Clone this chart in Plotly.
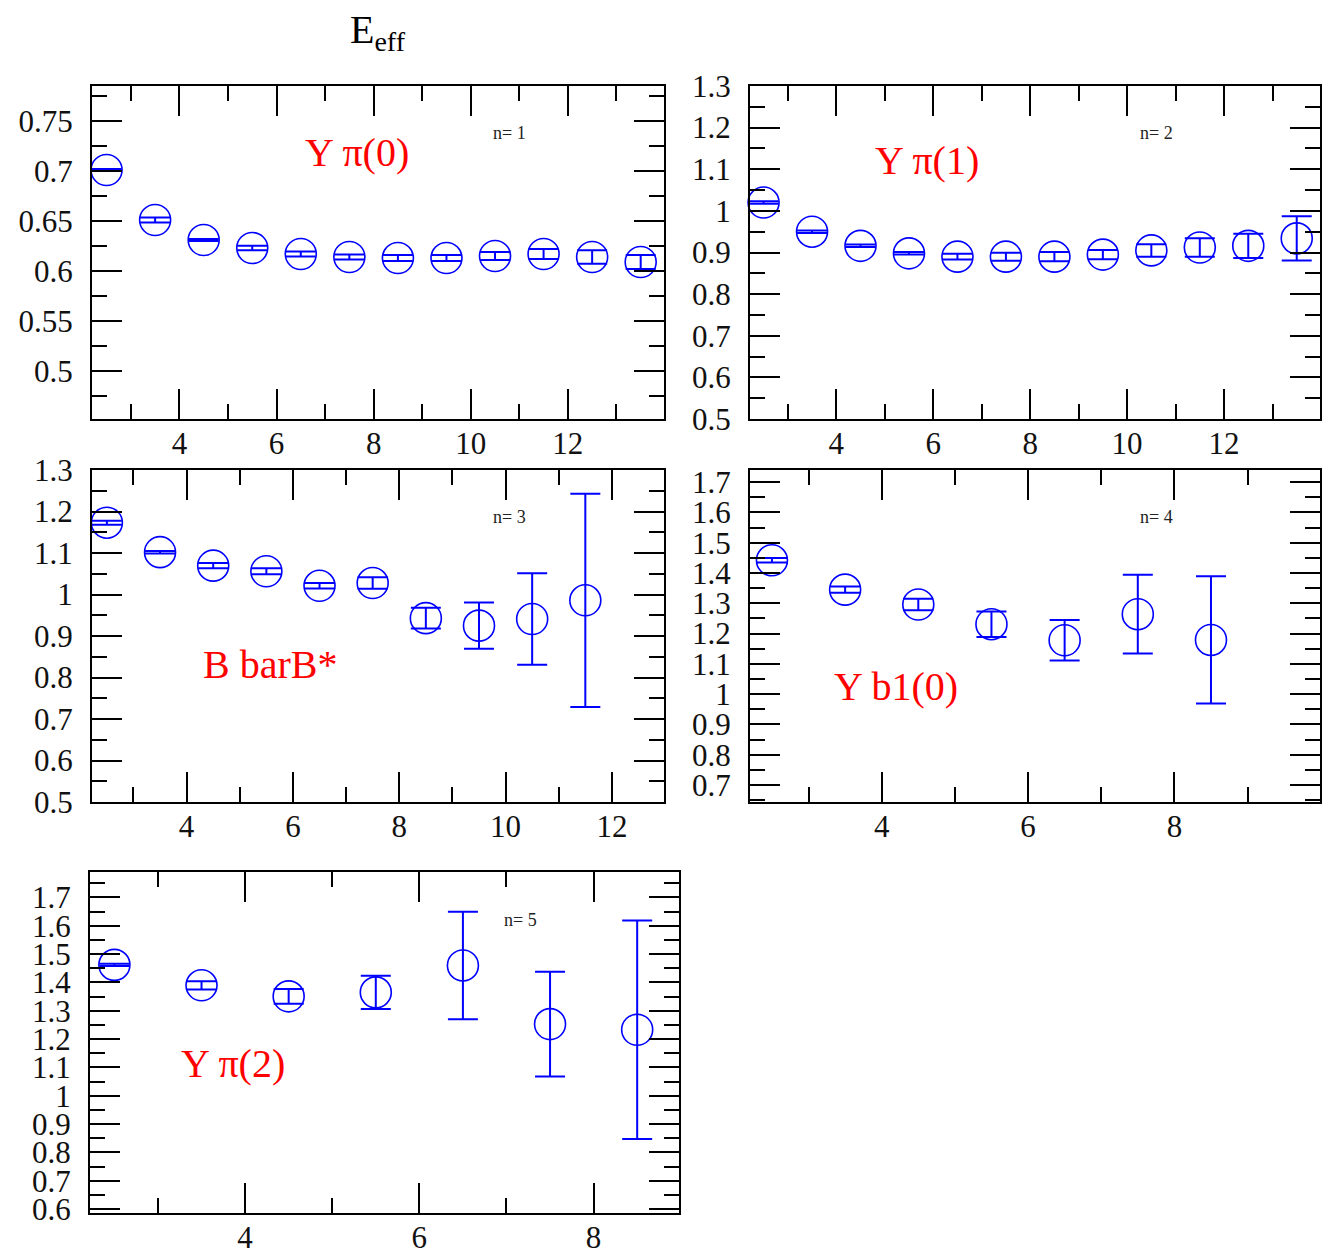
import plotly.graph_objects as go

# ---------------- data ----------------
t1 = [2.5, 3.5, 4.5, 5.5, 6.5, 7.5, 8.5, 9.5, 10.5, 11.5, 12.5, 13.5]
E1 = [0.701, 0.651, 0.631, 0.623, 0.617, 0.614, 0.613, 0.613, 0.615, 0.617, 0.614, 0.609]
err1 = [0.001, 0.0025, 0.001, 0.0023, 0.0025, 0.0025, 0.003, 0.003, 0.004, 0.005, 0.0067, 0.007]

t2 = [2.5, 3.5, 4.5, 5.5, 6.5, 7.5, 8.5, 9.5, 10.5, 11.5, 12.5, 13.5]
E2 = [1.020, 0.950, 0.916, 0.898, 0.890, 0.890, 0.890, 0.895, 0.905, 0.912, 0.916, 0.934]
err2 = [0.003, 0.003, 0.003, 0.003, 0.007, 0.0096, 0.011, 0.011, 0.015, 0.022, 0.029, 0.053]

t3 = [2.5, 3.5, 4.5, 5.5, 6.5, 7.5, 8.5, 9.5, 10.5, 11.5]
E3 = [1.173, 1.102, 1.0695, 1.056, 1.021, 1.0276, 0.943, 0.925, 0.941, 0.986]
err3 = [0.005, 0.003, 0.0064, 0.0073, 0.0068, 0.014, 0.025, 0.0556, 0.11, 0.257]

t4 = [2.5, 3.5, 4.5, 5.5, 6.5, 7.5, 8.5]
E4 = [1.442, 1.345, 1.296, 1.231, 1.178, 1.264, 1.179]
err4 = [0.0077, 0.010, 0.0187, 0.042, 0.0665, 0.13, 0.21]

t5 = [2.5, 3.5, 4.5, 5.5, 6.5, 7.5, 8.5]
E5 = [1.462, 1.390, 1.351, 1.365, 1.460, 1.253, 1.233]
err5 = [0.004, 0.0146, 0.026, 0.0585, 0.19, 0.185, 0.386]

labels = ["Y \u03c0(0)", "Y \u03c0(1)", "B barB*", "Y b1(0)", "Y \u03c0(2)"]
nlabels = ["n= 1", "n= 2", "n= 3", "n= 4", "n= 5"]
title_text = "E<sub>eff</sub>"

# ---------------- layout helpers ----------------
W, H = 1322, 1258
SERIF = "Liberation Serif, Times New Roman, serif"
BLUE = "#0000ff"


def px_x(p):
    return p / W


def px_y(p):
    return 1 - p / H


# panel boxes in screen pixels: (left, right, top, bottom)
boxes = [(92, 664, 86, 419), (750, 1320, 86, 419), (92, 664, 470, 802),
         (750, 1320, 470, 802), (90, 679, 872, 1213)]
xranges = [[2.2, 13.98], [2.22, 13.98], [2.22, 12.98], [2.2, 9.99], [2.22, 8.98]]
yranges = [[0.452, 0.785], [0.5, 1.3], [0.5, 1.3], [0.644, 1.74], [0.586, 1.79]]
ydticks = [0.05, 0.1, 0.1, 0.1, 0.1]

series = [(t1, E1, err1), (t2, E2, err2), (t3, E3, err3), (t4, E4, err4), (t5, E5, err5)]

fig = go.Figure()
layout = dict(width=W, height=H, margin=dict(l=0, r=0, t=0, b=0, pad=0, autoexpand=False),
              autosize=False, paper_bgcolor="white", plot_bgcolor="white", showlegend=False)

tickfont = dict(family=SERIF, size=31, color="#111")
for i, ((l, r, t, b), xr, yr, dy, (tx, ey, ee)) in enumerate(
        zip(boxes, xranges, yranges, ydticks, series)):
    k = "" if i == 0 else str(i + 1)
    common = dict(ticks="inside", ticklen=30, tickwidth=2, tickcolor="black",
                  showline=True, linecolor="black", linewidth=2, mirror="ticks",
                  showgrid=False, zeroline=False, tickfont=tickfont, automargin=False)
    layout["xaxis" + k] = dict(domain=[px_x(l), px_x(r)], range=xr, anchor="y" + k,
                               dtick=2, tick0=0,
                               minor=dict(dtick=1, tick0=0, ticks="inside", ticklen=15,
                                          tickwidth=2, tickcolor="black", showgrid=False),
                               ticklabelstandoff=-4, **common)
    layout["yaxis" + k] = dict(domain=[px_y(b), px_y(t)], range=yr, anchor="x" + k,
                               dtick=dy, tick0=0,
                               minor=dict(dtick=dy / 2, tick0=0, ticks="inside", ticklen=15,
                                          tickwidth=2, tickcolor="black", showgrid=False),
                               ticklabelstandoff=11, **common)
    fig.add_trace(go.Scatter(
        x=tx, y=ey, mode="markers", xaxis="x" + k, yaxis="y" + k,
        marker=dict(symbol="circle-open", size=31, color=BLUE, line=dict(width=1.6, color=BLUE)),
        error_y=dict(type="data", array=ee, visible=True, color=BLUE, thickness=2, width=15),
        cliponaxis=False,
    ))

# annotations
label_pos = [(357, 152), (927, 160), (270, 665), (896, 686), (233, 1063)]
n_pos = [(509, 133), (1156, 133), (509, 517), (1156, 517), (520, 920)]
annots = []
for lab, (x, y) in zip(labels, label_pos):
    annots.append(dict(text=lab, x=px_x(x), y=px_y(y), xref="paper", yref="paper",
                       showarrow=False, xanchor="center", yanchor="middle",
                       font=dict(family=SERIF, size=40, color="#ff0000")))
for lab, (x, y) in zip(nlabels, n_pos):
    annots.append(dict(text=lab, x=px_x(x), y=px_y(y), xref="paper", yref="paper",
                       showarrow=False, xanchor="center", yanchor="middle",
                       font=dict(family=SERIF, size=18, color="#222")))
annots.append(dict(text=title_text, x=px_x(378), y=px_y(32), xref="paper", yref="paper",
                   showarrow=False, xanchor="center", yanchor="middle",
                   font=dict(family=SERIF, size=40, color="#000")))
layout["annotations"] = annots

fig.update_layout(**layout)
# remove the default page margin so the 1322x1258 figure fills the window exactly
fig.write_html("out.html",
               config={"displayModeBar": False},
               post_script="document.body.style.margin='0px';document.body.style.overflow='hidden';")
